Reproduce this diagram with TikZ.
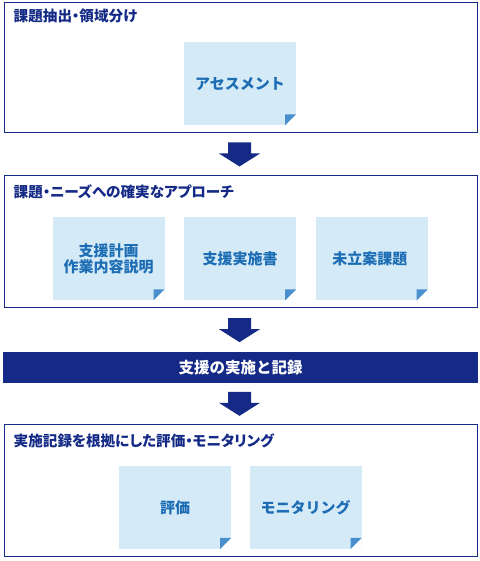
\documentclass[tikz,border=0pt]{standalone}
\usepackage{fontspec}
\setmainfont{Noto Sans CJK JP}
\newfontfamily\titlefont[RawFeature=+palt]{Noto Sans CJK JP}
\usepackage{tikz}
\usetikzlibrary{calc}
\definecolor{navy}{HTML}{142A86}
\definecolor{notebg}{HTML}{D5EAF7}
\definecolor{notetext}{HTML}{1C6DB4}
\definecolor{notefold}{HTML}{4A8FCD}

\begin{document}
\begin{tikzpicture}[
    x=1pt, y=1pt,
    frame/.style={draw=navy, line width=1pt, fill=white, minimum width=473pt, inner sep=0pt},
    title/.style={font=\titlefont\fontsize{14.6}{16}\selectfont\bfseries, text=navy, anchor=west, inner sep=0pt},
    note/.style={fill=notebg, minimum width=112pt, minimum height=83pt, inner sep=0pt,
      align=center, text=notetext, font=\fontsize{15}{16}\selectfont\bfseries,
      path picture={
        \fill[white] (path picture bounding box.south east) -- ++(-11pt,0pt) -- ++(11pt,11pt) -- cycle;
        \fill[notefold] ($(path picture bounding box.south east)+(-11pt,0pt)$) -- ++(0pt,11pt) -- ++(11pt,0pt) -- cycle;
      }},
    banner/.style={fill=navy, text=white, minimum width=475pt, minimum height=31pt, inner sep=0pt,
      font=\fontsize{15.5}{16}\selectfont\bfseries},
]
\useasboundingbox (0,0) rectangle (479,561);

% Frames
\node[frame, minimum height=130pt] (f1) at (240.5, 493) {};
\node[frame, minimum height=132pt] (f2) at (240.5, 319) {};
\node[banner] (bn) at (240.5, 193.5) {支援の実施と記録};
\node[frame, minimum height=132pt] (f3) at (240.5, 70) {};

% Frame titles
\node[title] (t1) at ($(f1.north west)+(10,-14)$) {課題抽出・領域分け};
\node[title] (t2) at ($(f2.north west)+(10,-16)$) {課題・ニーズへの確実なアプローチ};
\node[title] (t3) at ($(f3.north west)+(10,-16)$) {実施記録を根拠にした評価・モニタリング};

% Notes
\node[note] (n1) at ($(f1.north)+(-0.5,-81.5)$) {アセスメント};
\foreach \name/\dx/\txt in {
  n2a/-132/{支援計画\\作業内容説明},
  n2b/-0.5/{支援実施書},
  n2c/131/{未立案課題}
}{
  \node[note] (\name) at ($(f2.north)+(\dx,-83.5)$) {\txt};
}
\node[note] (n3a) at ($(f3.north)+(-65.5,-83)$) {評価};
\node[note] (n3b) at ($(f3.north)+(65,-83)$) {モニタリング};

% Block arrows
\foreach \a/\b in {f1/f2, f2/bn, bn/f3}{
  \coordinate (m\a) at ($(\a.south)!0.5!(\b.north)+(-1,0)$);
  \fill[navy] (m\a) ++(-11.5,12) -- ++(23,0) -- ++(0,-11) -- ++(9,0)
    -- ++(-20.5,-13) -- ++(-20.5,13) -- ++(9,0) -- cycle;
}

\end{tikzpicture}
\end{document}
